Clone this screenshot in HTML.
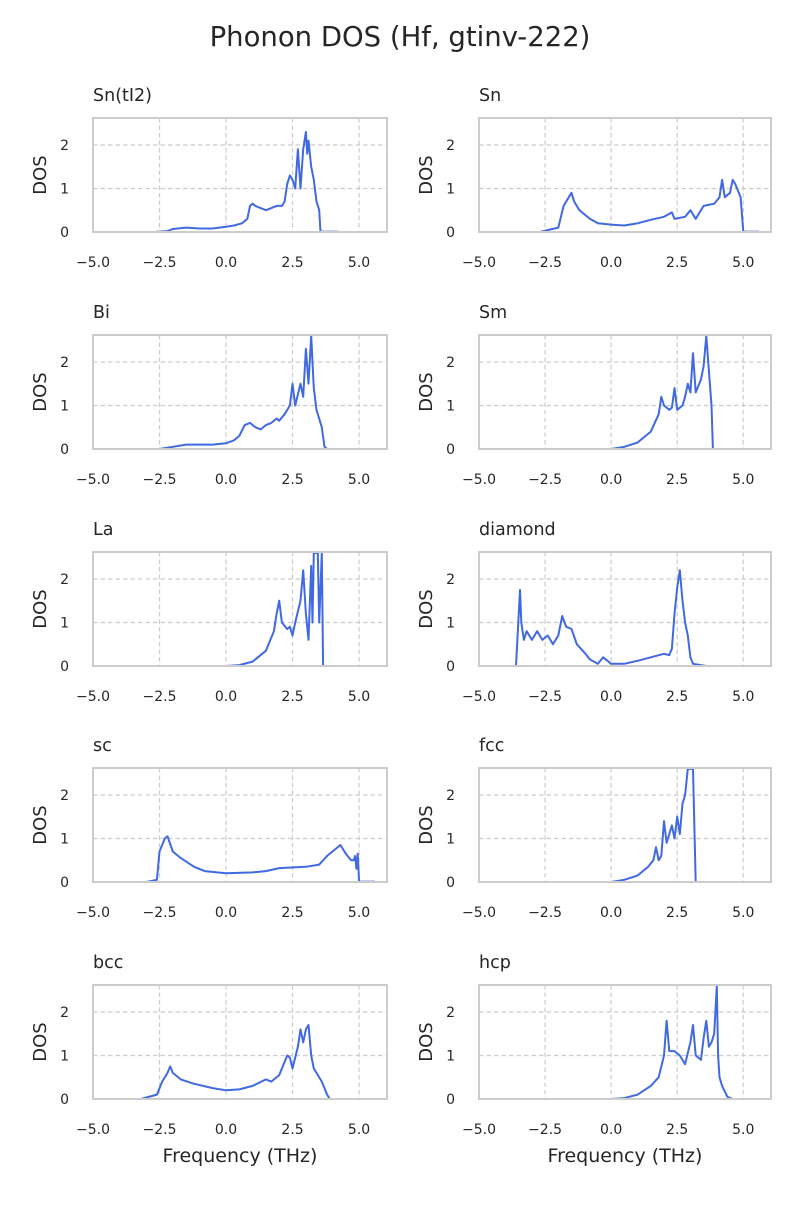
<!DOCTYPE html>
<html><head><meta charset="utf-8">
<style>
html,body{margin:0;padding:0;background:#fff;}
svg text{font-family:"DejaVu Sans","Liberation Sans",sans-serif;fill:#262626;}
</style></head>
<body>
<svg id="fig" width="800" height="1200" xmlns="http://www.w3.org/2000/svg">
<rect width="800" height="1200" fill="#fff"/>
<text x="400" y="46" text-anchor="middle" font-size="27.5">Phonon DOS (Hf, gtinv-222)</text>
</svg>
<script>
const panelNames = ["Sn(tI2)","Sn","Bi","Sm","La","diamond","sc","fcc","bcc","hcp"];
const xTicks = [-5.0,-2.5,0.0,2.5,5.0];
const xTickLabels = ["\u22125.0","\u22122.5","0.0","2.5","5.0"];
const yTicks = [0,1,2];
const freqSnTI2 = [-2.7,-2.2,-2,-1.5,-1,-0.5,0,0.3,0.6,0.8,0.9,1.0,1.1,1.3,1.5,1.7,1.9,2.1,2.2,2.3,2.4,2.5,2.6,2.7,2.8,2.9,3.0,3.05,3.1,3.2,3.3,3.4,3.5,3.55];
const dosSnTI2  = [0,0.02,0.07,0.1,0.08,0.08,0.12,0.15,0.2,0.3,0.6,0.65,0.6,0.55,0.5,0.55,0.6,0.6,0.7,1.1,1.3,1.2,1.0,1.9,1.0,1.9,2.3,1.8,2.1,1.5,1.2,0.7,0.5,0];
const freqSn = [-2.7,-2.0,-1.8,-1.6,-1.5,-1.4,-1.2,-0.8,-0.5,0,0.5,1,1.5,2.0,2.3,2.4,2.8,3.0,3.2,3.5,3.9,4.1,4.2,4.3,4.5,4.6,4.7,4.9,5.0];
const dosSn  = [0,0.1,0.6,0.8,0.9,0.7,0.5,0.3,0.2,0.17,0.15,0.2,0.28,0.35,0.45,0.3,0.35,0.5,0.3,0.6,0.65,0.8,1.2,0.8,0.9,1.2,1.1,0.8,0];
const freqBi = [-2.5,-2,-1.5,-1,-0.5,0,0.3,0.5,0.7,0.9,1.1,1.3,1.5,1.7,1.9,2.0,2.2,2.4,2.5,2.6,2.8,2.9,3.0,3.1,3.2,3.3,3.4,3.6,3.7,3.8];
const dosBi  = [0,0.05,0.1,0.1,0.1,0.13,0.2,0.3,0.55,0.6,0.5,0.45,0.55,0.6,0.7,0.65,0.8,1.0,1.5,1.0,1.5,1.2,2.3,1.5,2.6,1.4,0.9,0.5,0.05,0];
const freqSm = [0,0.5,1,1.5,1.8,1.9,2.0,2.2,2.3,2.4,2.5,2.7,2.8,2.9,3.0,3.1,3.2,3.4,3.5,3.6,3.7,3.8,3.85,4.0];
const dosSm  = [0,0.05,0.15,0.4,0.8,1.2,1.0,0.9,0.95,1.4,0.9,1.0,1.2,1.5,1.3,2.2,1.3,1.6,1.9,2.6,1.8,1.0,0,0];
const freqLa = [0,0.5,1,1.5,1.8,1.9,2.0,2.1,2.3,2.4,2.5,2.6,2.8,2.9,3.0,3.1,3.2,3.25,3.3,3.45,3.5,3.6,3.65,3.8];
const dosLa  = [0,0.02,0.1,0.35,0.8,1.2,1.5,1.0,0.85,0.9,0.7,1.0,1.5,2.2,1.2,0.6,2.3,1.0,2.6,2.6,1.0,2.6,0,0];
const freqDia = [-4.2,-3.6,-3.45,-3.4,-3.3,-3.2,-3.0,-2.8,-2.6,-2.4,-2.2,-2.0,-1.85,-1.7,-1.5,-1.3,-1.0,-0.8,-0.5,-0.3,0,0.5,1,1.5,2.0,2.2,2.3,2.4,2.5,2.6,2.7,2.8,2.9,3.0,3.1,3.6];
const dosDia  = [0,0,1.75,1.0,0.6,0.8,0.6,0.8,0.6,0.7,0.5,0.7,1.15,0.9,0.85,0.5,0.3,0.15,0.05,0.2,0.05,0.05,0.12,0.2,0.28,0.25,0.4,1.2,1.8,2.2,1.5,1.0,0.7,0.2,0.05,0];
const freqSc = [-3,-2.6,-2.5,-2.3,-2.2,-2.0,-1.7,-1.2,-0.8,0,1,1.5,2,3,3.5,3.8,4.1,4.3,4.5,4.7,4.8,4.85,4.9,4.95,5.0];
const dosSc  = [0,0.05,0.7,1.0,1.05,0.7,0.55,0.35,0.25,0.2,0.22,0.25,0.32,0.35,0.4,0.6,0.75,0.85,0.65,0.5,0.5,0.6,0.3,0.65,0];
const freqFcc = [0,0.5,1,1.4,1.6,1.7,1.8,1.9,2.0,2.1,2.3,2.4,2.5,2.6,2.7,2.8,2.9,3.1,3.2,3.5];
const dosFcc  = [0,0.05,0.15,0.35,0.5,0.8,0.5,0.6,1.4,0.9,1.3,1.0,1.5,1.1,1.8,2.0,2.6,2.6,0,0];
const freqBcc = [-3.2,-2.6,-2.4,-2.2,-2.1,-2.0,-1.7,-1.2,-0.5,0,0.5,1,1.5,1.7,2.0,2.3,2.4,2.5,2.7,2.8,2.9,3.0,3.1,3.2,3.3,3.6,3.8,3.9,4.0];
const dosBcc  = [0,0.1,0.4,0.6,0.75,0.6,0.45,0.35,0.25,0.2,0.22,0.3,0.45,0.4,0.55,1.0,0.95,0.7,1.2,1.6,1.3,1.6,1.7,1.0,0.7,0.4,0.1,0,0];
const freqHcp = [0,0.5,1,1.5,1.8,2.0,2.1,2.2,2.4,2.6,2.8,3.0,3.1,3.2,3.4,3.5,3.6,3.7,3.8,3.9,4.0,4.05,4.1,4.2,4.4,4.6];
const dosHcp  = [0,0.02,0.1,0.3,0.5,1.0,1.8,1.1,1.1,1.0,0.8,1.3,1.7,1.0,0.9,1.4,1.8,1.2,1.3,1.5,2.6,1.0,0.5,0.3,0.05,0];
const panelFreqs = [freqSnTI2,freqSn,freqBi,freqSm,freqLa,freqDia,freqSc,freqFcc,freqBcc,freqHcp];
const panelDos = [dosSnTI2,dosSn,dosBi,dosSm,dosLa,dosDia,dosSc,dosFcc,dosBcc,dosHcp];
const tailEnds = [4.2,5.6,null,null,null,null,5.6,null,null,null];

const NS="http://www.w3.org/2000/svg";
const fig=document.getElementById('fig');
const XMIN=-5, XMAX=6.05, YMAX=2.62;
const lefts=[93,479], widths=[294,292], tops=[118,335,552,768,985], H=114;
function mk(tag,attrs,parent){const e=document.createElementNS(NS,tag);for(const k in attrs)e.setAttribute(k,attrs[k]);(parent||fig).appendChild(e);return e;}
panelNames.forEach((name,i)=>{
  const col=i%2,row=Math.floor(i/2);
  const L=lefts[col],W=widths[col],T=tops[row],B=T+H;
  const sx=v=>L+(v-XMIN)/(XMAX-XMIN)*W;
  const sy=v=>B-Math.min(v,YMAX)/YMAX*H;
  const g=mk('g',{});
  
  
  xTicks.forEach((t,k)=>{
    if(t>XMIN){const gl=mk('line',{x1:sx(t),x2:sx(t),y1:T,y2:B,stroke:'#cccccc','stroke-width':1.2,'stroke-dasharray':'4.5,3'},g);
    
    }
    const tl=mk('text',{x:sx(t),y:B+35,'text-anchor':'middle','font-size':14},g);tl.textContent=xTickLabels[k];
    
    
  });
  yTicks.forEach(t=>{
    if(t>0){const gl=mk('line',{x1:L,x2:L+W,y1:sy(t),y2:sy(t),stroke:'#cccccc','stroke-width':1.2,'stroke-dasharray':'4.5,3'},g);
    
    }
    const tl=mk('text',{x:L-24,y:sy(t)+5,'text-anchor':'end','font-size':14},g);tl.textContent=String(t);
    
    
  });
  const fr=panelFreqs[i],ds=panelDos[i];
  if(tailEnds[i]!==null){
    const tail=mk('line',{x1:sx(fr[fr.length-1]),x2:sx(tailEnds[i]),y1:B-1,y2:B-1,stroke:'#a9bdf2','stroke-width':1.5},g);
    
    
  }
  const pts=fr.map((f,k)=>sx(f).toFixed(1)+','+sy(ds[k]).toFixed(1)).join(' ');
  const cp=mk('clipPath',{id:'cp'+i},g);mk('rect',{x:L,y:T,width:W,height:H},cp);
  const line=mk('polyline',{points:pts,fill:'none',stroke:'#4169e1','stroke-width':2,'stroke-linejoin':'round','clip-path':'url(#cp'+i+')'},g);
  
  
  const fr2=mk('rect',{x:L,y:T,width:W,height:H,fill:'none',stroke:'#cccccc','stroke-width':2},g);
  
  
  const tt=mk('text',{x:L,y:T-17,'font-size':17.5},g);tt.textContent=name;
  
  
  const yl=mk('text',{x:0,y:0,'font-size':18,'text-anchor':'middle',transform:'translate('+(L-47)+','+(T+H/2)+') rotate(-90)'},g);yl.textContent='DOS';
  
  
  if(row===4){const xl=mk('text',{x:L+W/2,y:B+63,'font-size':19,'text-anchor':'middle'},g);xl.textContent='Frequency (THz)';
  
  }
});
</script>
</body></html>
